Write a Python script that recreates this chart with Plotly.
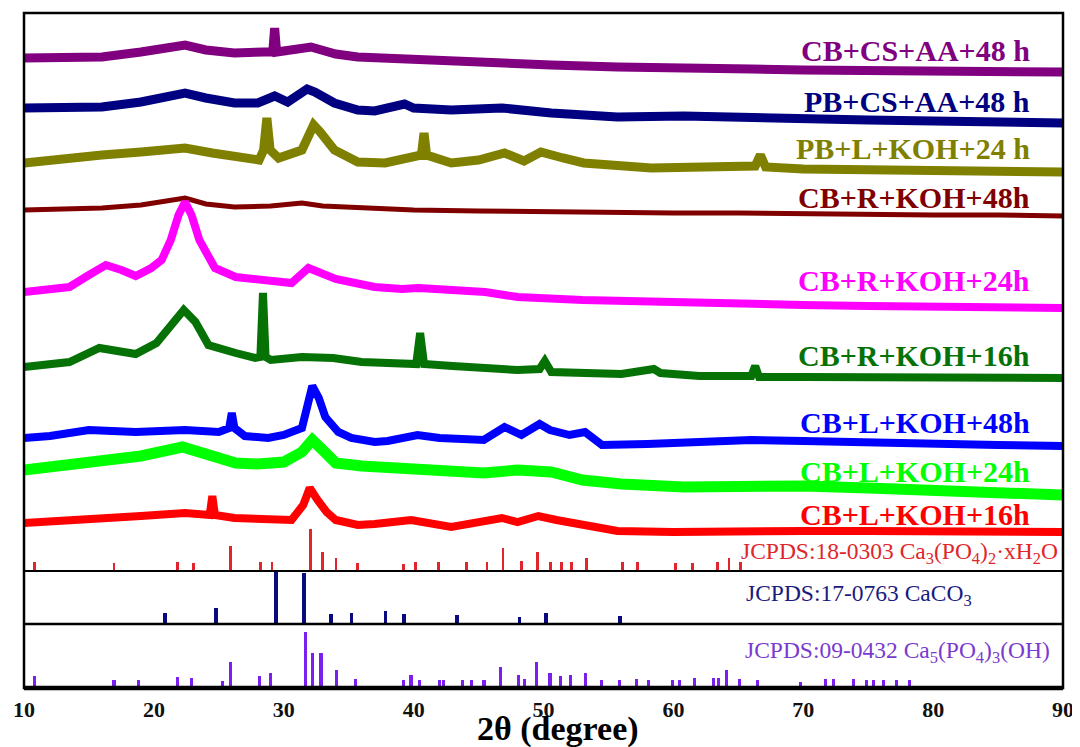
import plotly.graph_objects as go

# ---------------- data ----------------
two_theta_ticks = [10, 20, 30, 40, 50, 60, 70, 80, 90]

# sample traces: 2theta positions and relative intensities (a.u., above own baseline)
cs_aa_cb48_x = [10, 13, 16, 19, 22.4, 24, 26.2, 28.5, 29.15, 29.3, 29.45, 32.1, 34, 35.7, 40.4, 45.5, 50.6, 55.7, 60.8, 66, 70, 75, 80, 85, 90]
cs_aa_cb48_y = [14, 15, 15, 20, 27, 22, 19, 20, 20, 44, 20, 25, 18, 15, 12, 10, 7, 5, 5, 3, 2, 1, 1, 0, 0]

cs_aa_pb48_x = [10, 13, 16, 19, 22.4, 24, 26.2, 28, 29.3, 30.3, 31.8, 32.4, 33.9, 35.7, 37, 39.3, 40, 42.9, 46.8, 50.6, 55.7, 60.8, 66, 70, 75, 80, 85, 90]
cs_aa_pb48_y = [15, 16, 16, 21, 30, 25, 20, 20, 27, 21, 34, 31, 20, 13, 12, 19, 15, 13, 15, 10, 6, 7, 5, 4, 3, 2, 1, 0]

l_koh_pb24_x = [10, 13, 16, 19, 22.4, 24.5, 26.2, 28.1, 28.45, 28.7, 28.95, 29.6, 31.4, 32.3, 32.8, 33.9, 35.7, 37.8, 40.6, 40.8, 41.0, 42.9, 45, 47, 48.5, 49.8, 51.5, 53.1, 58.3, 63.4, 66.3, 66.7, 67.1, 70, 75, 80, 85, 90]
l_koh_pb24_y = [9, 14, 17, 20, 24, 19, 15, 12, 22, 54, 22, 14, 22, 47, 40, 22, 10, 9, 17, 39, 17, 9, 12, 19, 11, 20, 14, 9, 4, 5, 6, 17, 5, 3, 2, 2, 1, 0]

r_koh_cb48_x = [10, 13, 16, 19, 22.4, 24, 26.2, 29, 31.4, 33, 35.7, 40, 45, 50.6, 55, 60, 65, 70, 75, 80, 85, 90]
r_koh_cb48_y = [6, 7, 8, 11, 18, 12, 9, 10, 13, 10, 8, 6, 5, 4, 3, 3, 3, 2, 2, 1, 1, 0]

r_koh_cb24_x = [10, 12, 13.5, 15, 16.3, 17.5, 18.6, 19.8, 20.6, 21.3, 21.9, 22.4, 22.9, 23.5, 24, 24.7, 26.3, 28.8, 30.6, 31.9, 33, 34, 35.5, 37, 39.1, 40.4, 45.5, 48, 53, 58, 66, 70, 75, 80, 85, 90]
r_koh_cb24_y = [16, 18, 21, 33, 43, 38, 32, 40, 48, 68, 93, 106, 93, 68, 56, 40, 31, 27, 25, 40, 34, 29, 25, 21, 19, 20, 16, 11, 8, 6, 3, 3, 2, 2, 1, 0]

r_koh_cb16_x = [10, 12, 13.5, 15.8, 17, 18.6, 20.2, 21.2, 22.3, 23.2, 24.2, 26.3, 27.8, 28.2, 28.4, 28.6, 29, 31.4, 33.8, 36, 39.1, 40.2, 40.5, 40.8, 43, 45.4, 48, 49.7, 50.1, 50.6, 53, 56, 58.5, 59, 62, 66, 66.3, 66.6, 70, 75, 80, 85, 90]
r_koh_cb16_y = [11, 13, 16, 30, 28, 24, 35, 50, 68, 56, 33, 25, 20, 21, 85, 21, 18, 21, 20, 16, 16, 14, 45, 14, 12, 10, 8, 9, 17, 6, 5, 4, 9, 5, 2, 2, 12, 1, 1, 1, 1, 0, 0]

l_koh_cb48_x = [10, 12, 15, 18.6, 22.4, 25, 25.8, 26, 26.2, 27, 28.8, 30, 31.4, 31.8, 32.2, 32.7, 33.2, 34.2, 35.2, 37, 38, 40.3, 42, 45.4, 47, 48.3, 49.7, 50.5, 52, 53.2, 54.5, 58, 61, 66, 70, 75, 80, 85, 90]
l_koh_cb48_y = [8, 10, 16, 14, 16, 14, 18, 33, 18, 10, 8, 11, 18, 41, 60, 48, 29, 14, 8, 4, 5, 11, 8, 6, 19, 11, 22, 16, 11, 14, 1, 2, 3, 6, 5, 3, 3, 1, 0]

l_koh_cb24_x = [10, 13, 16, 19, 22.2, 24, 26.3, 28, 30, 31.4, 32.2, 33, 34, 36, 39, 42, 45.4, 48, 50.6, 53, 56, 60.8, 66, 70, 75, 80, 85, 90]
l_koh_cb24_y = [25, 30, 35, 39, 48, 40, 32, 31, 33, 43, 55, 45, 32, 29, 27, 23, 22, 25, 23, 15, 11, 8, 10, 9, 7, 5, 3, 0]

l_koh_cb16_x = [10, 13, 16, 19, 22.4, 24.3, 24.5, 24.7, 26.2, 28, 30.6, 31.5, 32, 32.6, 33.3, 34, 35.7, 37, 39.8, 42.9, 45, 46.8, 48, 49.6, 51, 53.2, 55.7, 60, 65, 70, 75, 80, 85, 90]
l_koh_cb16_y = [9, 12, 14, 16, 19, 17, 36, 17, 14, 13, 12, 27, 44, 32, 20, 12, 7, 8, 12, 5, 9, 14, 10, 16, 12, 7, 1, 0, 1, 1, 1, 1, 0, 0]

sample_names = ["CB+CS+AA+48 h", "PB+CS+AA+48 h", "PB+L+KOH+24 h", "CB+R+KOH+48h",
                "CB+R+KOH+24h", "CB+R+KOH+16h", "CB+L+KOH+48h", "CB+L+KOH+24h", "CB+L+KOH+16h"]

# reference stick patterns
tcp_pos = [10.83, 16.93, 21.84, 23.02, 25.9, 28.24, 29.09, 32.03, 33.0, 34.02, 35.67, 39.25, 40.15, 41.9, 44.07,
           45.65, 46.88, 48.28, 49.57, 50.51, 51.36, 52.13, 53.33, 56.1, 57.25, 60.19, 61.47, 63.39, 64.28, 65.2]
tcp_int = [9, 8, 9, 8, 25, 9, 9, 42, 19, 13, 8, 7, 9, 9, 9,
           9, 23, 10, 19, 9, 9, 9, 13, 9, 9, 8, 8, 9, 13, 9]

caco3_pos = [20.84, 24.76, 29.42, 31.57, 33.62, 35.23, 37.84, 39.25, 43.35, 48.15, 50.2, 55.9]
caco3_int = [11, 16, 52, 51, 10, 11, 13, 10, 9, 7, 11, 8]

hap_pos = [10.83, 16.93, 18.8, 21.84, 22.9, 25.3, 25.9, 28.1, 28.95, 31.7, 32.21, 32.87, 34.08, 35.54, 39.25,
           39.8, 40.45, 42.0, 42.3, 43.76, 44.45, 45.42, 46.69, 48.1, 48.55, 49.46, 50.5, 51.28, 52.1, 53.2,
           54.44, 55.84, 57.17, 58.1, 59.9, 60.45, 61.66, 63.06, 63.5, 64.1, 65.1, 66.45, 69.8, 71.7, 72.35,
           73.85, 74.9, 75.4, 76.2, 77.2, 78.2]
hap_int = [12, 8, 8, 11, 10, 7, 26, 12, 15, 56, 35, 35, 18, 9, 8,
           13, 8, 8, 8, 8, 8, 8, 21, 13, 9, 26, 15, 12, 13, 15,
           8, 8, 9, 8, 8, 8, 10, 10, 10, 18, 9, 8, 6, 9, 9,
           9, 8, 8, 8, 8, 8]

ref_labels = ["JCPDS:18-0303 Ca<sub>3</sub>(PO<sub>4</sub>)<sub>2</sub>·xH<sub>2</sub>O",
              "JCPDS:17-0763 CaCO<sub>3</sub>",
              "JCPDS:09-0432 Ca<sub>5</sub>(PO<sub>4</sub>)<sub>3</sub>(OH)"]

# ---------------- styles / layout ----------------
samples = [
    (cs_aa_cb48_x, cs_aa_cb48_y, "#800080", 499, 521, 9),
    (cs_aa_pb48_x, cs_aa_pb48_y, "#000080", 448, 470, 9),
    (l_koh_pb24_x, l_koh_pb24_y, "#808000", 399, 423, 9),
    (r_koh_cb48_x, r_koh_cb48_y, "#800000", 355, 374, 5),
    (r_koh_cb24_x, r_koh_cb24_y, "#FF00FF", 263, 291, 8),
    (r_koh_cb16_x, r_koh_cb16_y, "#067206", 193, 216, 8),
    (l_koh_cb48_x, l_koh_cb48_y, "#0000FF", 125, 149, 8),
    (l_koh_cb24_x, l_koh_cb24_y, "#00FF00", 76, 100, 11),
    (l_koh_cb16_x, l_koh_cb16_y, "#FF0000", 39, 57, 8),
]

SERIF = "Liberation Serif, Times New Roman, serif"
fig = go.Figure()

annotations = []
for (xs, ys, col, off, lab_y, lw), name in zip(samples, sample_names):
    fig.add_trace(go.Scatter(x=xs, y=[v + off for v in ys], mode="lines",
                             line=dict(color=col, width=lw), showlegend=False,
                             xaxis="x", yaxis="y"))
    annotations.append(dict(text="<b>" + name + "</b>", x=0.970, xref="paper", y=lab_y, yref="y",
                            xanchor="right", yanchor="middle", showarrow=False,
                            font=dict(family=SERIF, size=30, color=col)))

fig.add_trace(go.Bar(x=tcp_pos, y=tcp_int, width=0.22, marker=dict(color="#E0262A", line=dict(width=0)),
                     showlegend=False, xaxis="x", yaxis="y"))
fig.add_trace(go.Bar(x=caco3_pos, y=caco3_int, width=0.28, marker=dict(color="#0A0A80", line=dict(width=0)),
                     showlegend=False, xaxis="x", yaxis="y2"))
fig.add_trace(go.Bar(x=hap_pos, y=hap_int, width=0.24, marker=dict(color="#7A1FF0", line=dict(width=0)),
                     showlegend=False, xaxis="x", yaxis="y3"))

annotations += [
    dict(text=ref_labels[0], x=0.997, xref="paper", y=18, yref="y", xanchor="right", yanchor="middle",
         showarrow=False, font=dict(family=SERIF, size=23.5, color="#E0262A")),
    dict(text=ref_labels[1], x=0.6926, xref="paper", y=29, yref="y2", xanchor="left", yanchor="middle",
         showarrow=False, font=dict(family=SERIF, size=23.5, color="#1A1A80")),
    dict(text=ref_labels[2], x=0.692, xref="paper", y=36, yref="y3", xanchor="left", yanchor="middle",
         showarrow=False, font=dict(family=SERIF, size=23.5, color="#7A3AD0")),
    dict(text="<b>2θ (degree)</b>", x=0.514, xref="paper", y=-0.061, yref="paper", xanchor="center",
         yanchor="middle", showarrow=False, font=dict(family=SERIF, size=34, color="black")),
]

d1 = 64 / 675
d2 = 117 / 675
# the page body adds an 8 px offset, so the figure is sized/margined to compensate
fig.update_layout(
    width=1072, height=739,
    margin=dict(l=14, r=17, t=5, b=59),
    paper_bgcolor="white", plot_bgcolor="white",
    barmode="overlay", bargap=0,
    xaxis=dict(range=[10, 90], tickvals=two_theta_ticks,
               ticktext=["<b>%d</b>" % t for t in two_theta_ticks],
               ticks="outside", ticklen=2, tickcolor="rgba(0,0,0,0)",
               showgrid=False, zeroline=False, showline=False,
               tickfont=dict(family=SERIF, size=22, color="#111"),
               anchor="y3"),
    yaxis=dict(domain=[d2, 1], range=[0, 558], visible=False, fixedrange=True),
    yaxis2=dict(domain=[d1, d2], range=[0, 53], visible=False),
    yaxis3=dict(domain=[0, d1], range=[0, 64], visible=False),
    annotations=annotations,
    shapes=[
        dict(type="rect", xref="paper", yref="paper", x0=0, x1=1, y0=0, y1=1,
             line=dict(color="black", width=2.5)),
        dict(type="line", xref="paper", yref="paper", x0=0, x1=1, y0=0, y1=0,
             line=dict(color="black", width=4.5)),
        dict(type="line", xref="paper", yref="paper", x0=0, x1=1, y0=d2, y1=d2,
             line=dict(color="black", width=1.8)),
        dict(type="line", xref="paper", yref="paper", x0=0, x1=1, y0=d1, y1=d1,
             line=dict(color="black", width=2.5)),
    ],
)

fig.write_html("out.html")
